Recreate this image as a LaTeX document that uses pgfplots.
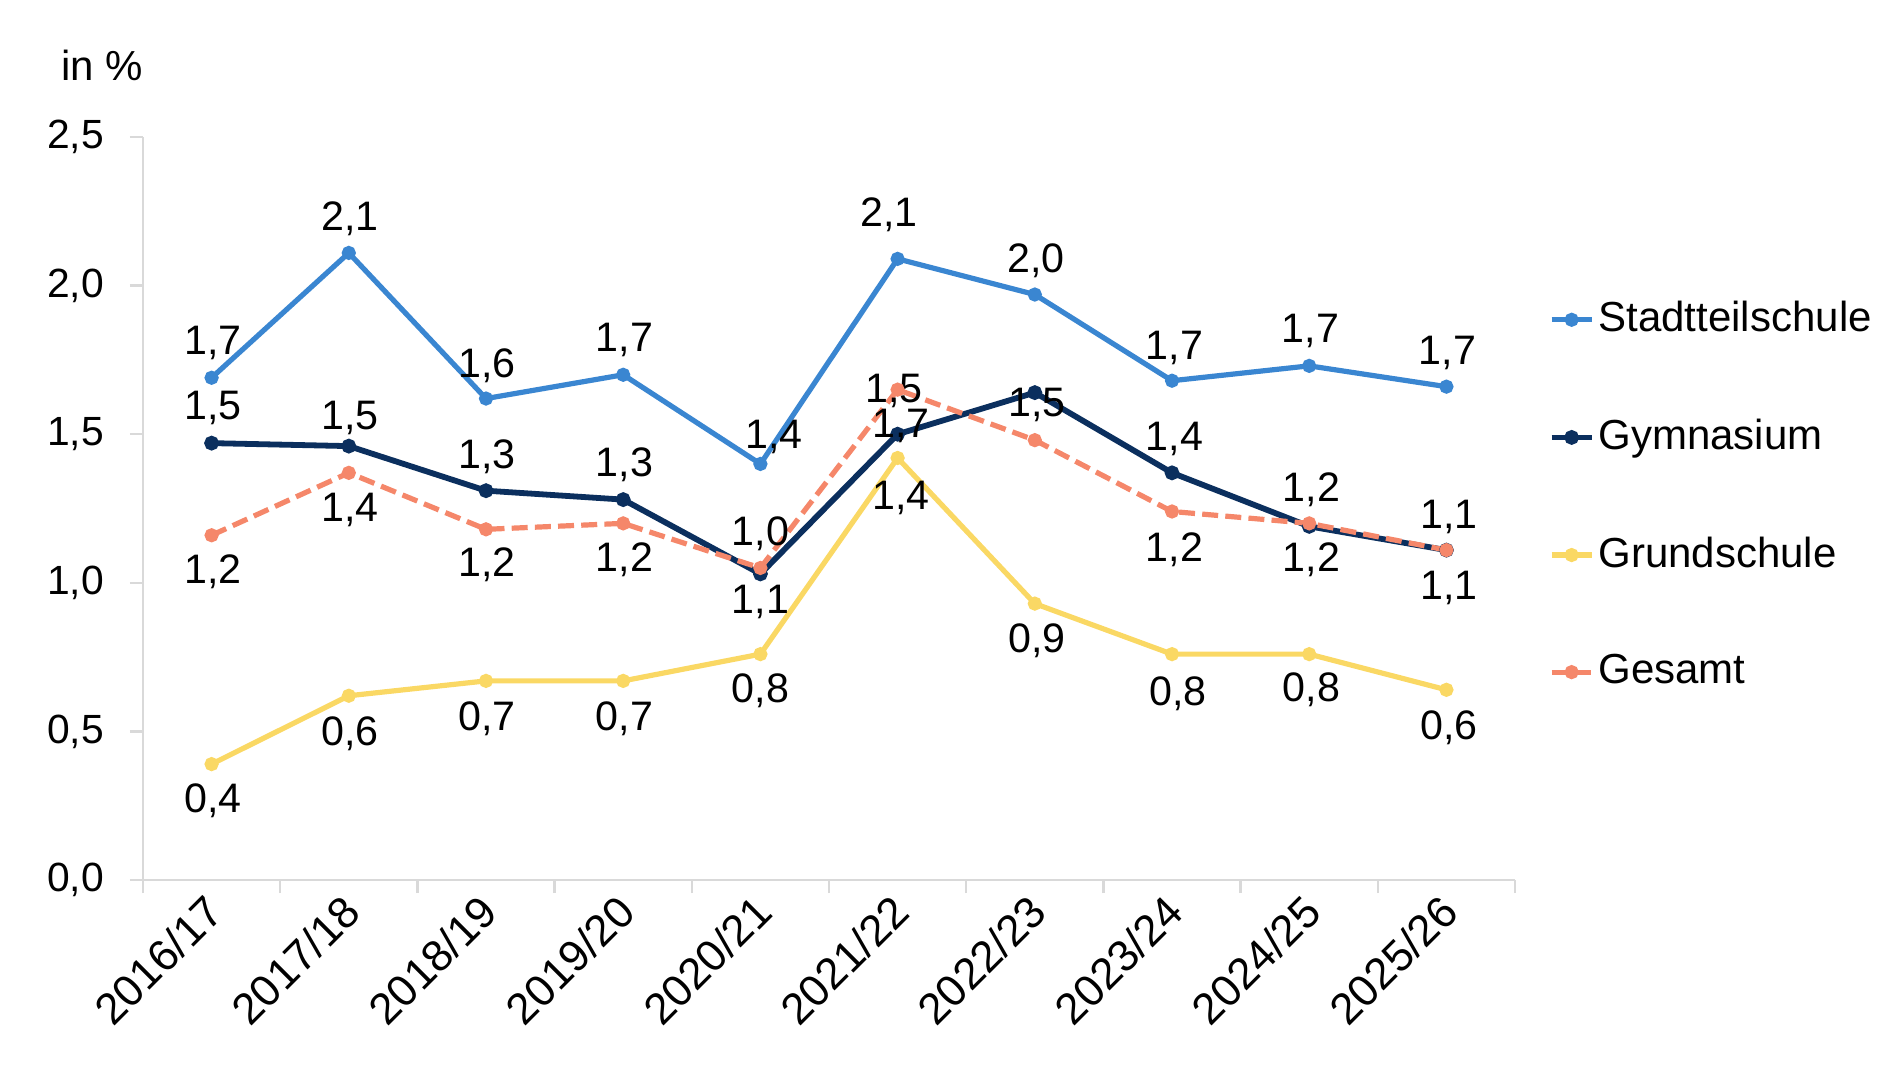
\documentclass[border=0pt]{standalone}
\usepackage{pgfplots}
\pgfplotsset{compat=1.18}
\usepackage{fontspec}
\setmainfont{Liberation Sans}

\definecolor{stadt}{HTML}{3A86D1}
\definecolor{gym}{HTML}{0B2F5E}
\definecolor{grund}{HTML}{FAD864}
\definecolor{gesamt}{HTML}{F5876A}
\definecolor{achse}{HTML}{D9D9D9}

% x y label dx dy (offsets of the value labels in pt)
\pgfplotstableread{
x y lbl dx dy
0 1.69 1,7 0.3 8.8
1 2.11 2,1 0.3 8.5
2 1.62 1,6 0.3 8.2
3 1.70 1,7 0.3 8.8
4 1.40 1,4 3.4 6.7
5 2.09 2,1 -2.1 11
6 1.97 2,0 0.3 8.5
7 1.68 1,7 0.6 8.2
8 1.73 1,7 0.3 8.8
9 1.66 1,7 0.3 8.5
}\stadt
\pgfplotstableread{
x y lbl dx dy
0 1.47 1,5 0.3 8.8
1 1.46 1,5 0.3 7
2 1.31 1,3 0.3 8.5
3 1.28 1,3 0.3 8.8
4 1.03 1,0 0 10
5 1.50 1,5 -0.9 10.7
6 1.64 {} 0 0
7 1.37 1,4 0.6 8.5
8 1.19 1,2 0.6 9.2
9 1.11 1,1 0.6 8.2
}\gym
\pgfplotstableread{
x y lbl dx dy
0 0.39 0,4 0.3 -9.2
1 0.62 0,6 0.3 -9.5
2 0.67 0,7 0.3 -9.5
3 0.67 0,7 0.3 -9.5
4 0.76 0,8 0 -9.2
5 1.42 1,4 0.9 -10
6 0.93 0,9 0.6 -9.2
7 0.76 0,8 1.5 -9.8
8 0.76 0,8 0.6 -8.8
9 0.64 0,6 0.6 -9.5
}\grund
\pgfplotstableread{
x y lbl dx dy
0 1.16 1,2 0.3 -9.2
1 1.37 1,4 0.3 -9.2
2 1.18 1,2 0.3 -8.8
3 1.20 1,2 0.3 -9.2
4 1.05 1,1 0 -8.5
5 1.65 1,7 0.9 -9.2
6 1.48 1,5 0.6 8.8
7 1.24 1,2 0.6 -9.5
8 1.20 1,2 0.6 -9.2
9 1.11 1,1 0.6 -9.5
}\gesamt

\begin{document}
\begin{tikzpicture}
\begin{axis}[
  scale only axis,
  width=343pt, height=185.75pt,
  xmin=-0.5, xmax=9.5,
  ymin=0, ymax=2.5,
  axis x line*=bottom, axis y line*=left,
  axis line style={draw=achse, line width=0.6pt, -},
  tick style={draw=achse, line width=0.6pt},
  tick align=outside,
  xtick={0,...,9},
  xticklabels={2016/17,2017/18,2018/19,2019/20,2020/21,2021/22,2022/23,2023/24,2024/25,2025/26},
  major x tick style={draw=none},
  minor xtick={-0.5,0.5,...,9.5},
  minor tick length=3.25pt,
  ytick={0,0.5,...,2.5},
  major tick length=3.25pt,
  /pgf/number format/.cd, use comma, fixed, fixed zerofill, precision=1, assume math mode=true,
  /pgfplots/.cd,
  yticklabel style={xshift=-3pt, font=\fontsize{10.2}{12}\selectfont},
  xticklabel style={xshift=0.9pt, yshift=-2.6pt, rotate=45, anchor=east, inner sep=0pt,
    font=\fontsize{11}{13}\selectfont},
  clip=false,
  point meta=explicit symbolic,
  visualization depends on={\thisrow{dx}\as\dx},
  visualization depends on={\thisrow{dy}\as\dy},
  nodes near coords,
  nodes near coords style={anchor=center, inner sep=0pt, xshift=\dx pt, yshift=\dy pt,
    font=\fontsize{10.3}{12}\selectfont, text=black},
  every axis plot/.append style={line width=1.3pt, mark=*, mark size=1.1pt},
  legend cell align=left,
  legend style={draw=none, fill=none, at={(1.024,0.785)}, anchor=north west,
    inner sep=0pt, row sep=18.3pt, font=\fontsize{10.5}{12}\selectfont,
    nodes={inner sep=1pt}},
  legend image code/.code={
    \draw[#1, mark=none] (0pt,0pt) -- (10pt,0pt);
    \draw[#1, only marks] plot coordinates {(5pt,0pt)};
  },
]
\addplot[color=stadt] table[x=x, y=y, meta=lbl] {\stadt};
\addlegendentry{Stadtteilschule}
\addplot[color=gym, line width=1.45pt] table[x=x, y=y, meta=lbl] {\gym};
\addlegendentry{Gymnasium}
\addplot[color=grund] table[x=x, y=y, meta=lbl] {\grund};
\addlegendentry{Grundschule}
\addplot[color=gesamt, dash pattern=on 4pt off 1.8pt, mark options={solid}] table[x=x, y=y, meta=lbl] {\gesamt};
\addlegendentry{Gesamt}
\end{axis}
\node[anchor=base west, font=\fontsize{10.5}{12}\selectfont] at ([shift={(-24pt,200pt)}]current axis.south west) {in \%};
\pgfresetboundingbox
\path[use as bounding box] ([shift={(-35.75pt,-51.25pt)}]current axis.south west) rectangle ([shift={(440pt,220pt)}]current axis.south west);
\end{tikzpicture}
\end{document}
